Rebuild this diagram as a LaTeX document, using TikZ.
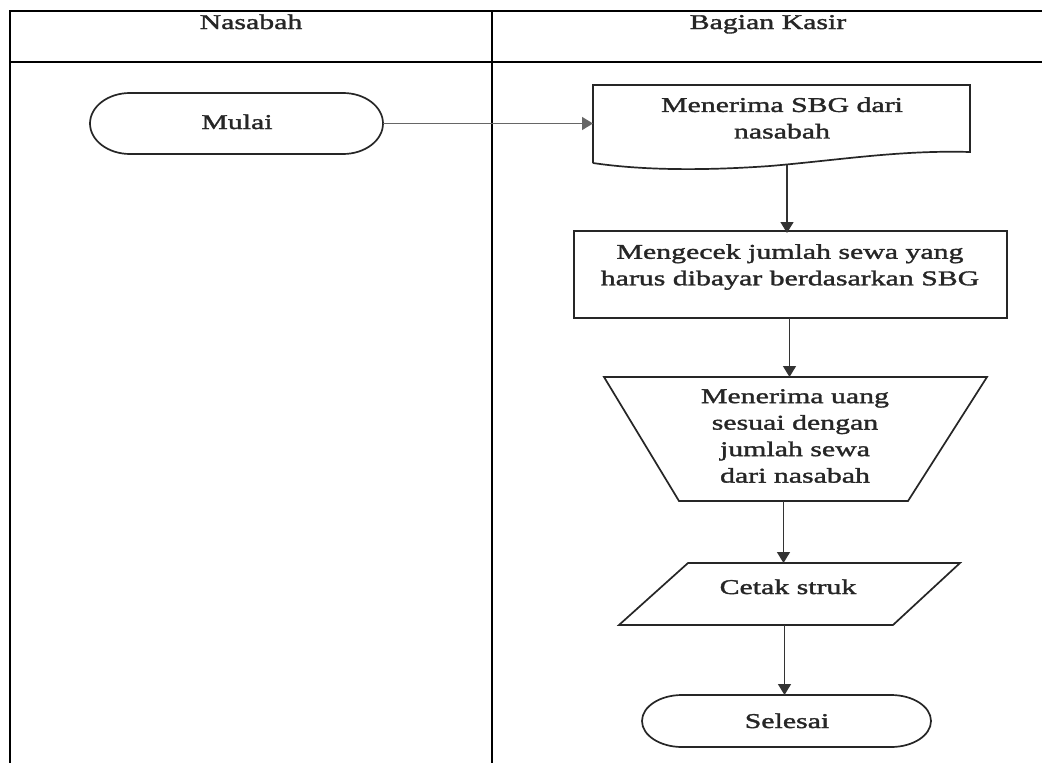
\documentclass[tikz,border=0pt]{standalone}
\usepackage{fontspec}
\setmainfont{Liberation Serif}[FakeStretch=1.42,FakeBold=1.6]
\usetikzlibrary{arrows.meta}
\newcommand\mystadium[5]{%
  \draw[shapeline] (#1-#3+#5,#2-#4) -- (#1+#3-#5,#2-#4)
    arc[start angle=-90,end angle=90,x radius=#5,y radius=#4]
    -- (#1-#3+#5,#2+#4)
    arc[start angle=90,end angle=270,x radius=#5,y radius=#4] -- cycle;}
\begin{document}
\begin{tikzpicture}[x=1pt,y=-1pt,
  lane/.style={line width=2.4pt,black},
  shapeline/.style={line width=1.7pt,black!85},
  holder/.style={inner sep=0pt,outer sep=0pt,draw=none},
  lbl/.style={align=center,inner sep=0pt,text=black!85,font=\fontsize{21}{26.5}\selectfont},
  arr/.style={line width=1.3pt,black!80,-{Triangle[length=11pt,width=13pt]}}]
\useasboundingbox[fill=white] (0,0) rectangle (1042,763);

% swimlane table
\draw[lane] (1042,11) -- (10,11) -- (10,763);
\draw[lane] (10,62) -- (1042,62);
\draw[lane] (492,11) -- (492,763);
\node[lbl,anchor=base] (hNasabah) at (251,29) {Nasabah};
\node[lbl,anchor=base] (hKasir) at (768,29) {Bagian Kasir};

% Mulai (terminator)
\node[holder,minimum width=293pt,minimum height=61pt] (mulai) at (236.5,123.5) {};
\mystadium{236.5}{123.5}{146.5}{30.5}{40}
\node[lbl,anchor=base] (tMulai) at (237,129) {Mulai};

% Document: Menerima SBG dari nasabah
\node[holder,minimum width=377pt,minimum height=78pt] (doc) at (781.5,124) {};
\draw[shapeline] (593,163) -- (593,85) -- (970,85) -- (970,152)
  .. controls (900,150) and (840,160) .. (770,166)
  .. controls (700,171) and (640,170) .. (593,163);
\node[lbl] (tDoc) at (782,118) {Menerima SBG dari\\nasabah};

% Process: Mengecek
\node[holder,draw,shapeline,minimum width=433pt,minimum height=87pt] (rect) at (790.5,274.5) {};
\node[lbl] (tRect) at (790,267) {Mengecek jumlah sewa yang\\harus dibayar berdasarkan SBG};

% Manual operation (trapezoid)
\node[holder,minimum width=383pt,minimum height=124pt] (trap) at (795.5,439) {};
\draw[shapeline] (604,377) -- (987,377) -- (908,501) -- (679,501) -- cycle;
\node[lbl] (tTrap) at (795,436) {Menerima uang\\sesuai dengan\\jumlah sewa\\dari nasabah};

% Input/output (parallelogram)
\node[holder,minimum width=341pt,minimum height=62pt] (para) at (789.5,594) {};
\draw[shapeline] (688,563) -- (960,563) -- (893,625) -- (619,625) -- cycle;
\node[lbl,anchor=base] (tPara) at (788,594) {Cetak struk};

% Selesai (terminator)
\node[holder,minimum width=289pt,minimum height=52pt] (selesai) at (786.5,721) {};
\mystadium{786.5}{721}{144.5}{26}{40}
\node[lbl,anchor=base] (tSelesai) at (787,728) {Selesai};

% connectors
\draw[arr,black!60] (mulai.east) -- (mulai.east -| doc.west);
\draw[arr] ([xshift=5.5pt,yshift=-2pt]doc.south) -- ([xshift=5.5pt,yshift=-2pt]doc.south |- rect.north);
\draw[arr] ([xshift=-1pt]rect.south) -- ([xshift=-1pt]rect.south |- trap.north);
\draw[arr] ([xshift=-12pt]trap.south) -- ([xshift=-12pt]trap.south |- para.north);
\draw[arr] ([xshift=-5pt]para.south) -- ([xshift=-5pt]para.south |- selesai.north);
\end{tikzpicture}
\end{document}
